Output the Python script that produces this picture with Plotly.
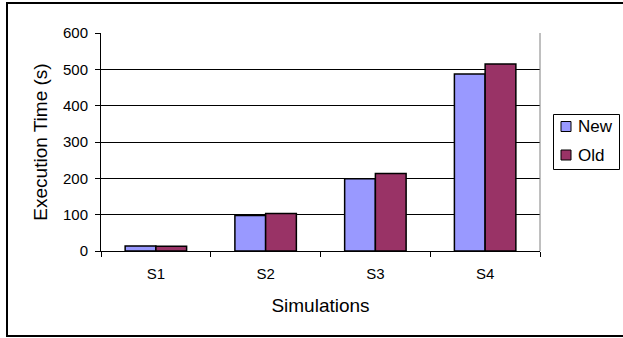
import plotly.graph_objects as go

# Execution time per simulation, old vs new implementation
simulations = ["S1", "S2", "S3", "S4"]
new_times = [14, 98, 199, 487]
old_times = [13, 103, 213, 515]
y_ticks = [0, 100, 200, 300, 400, 500, 600]
series_names = ["New", "Old"]
series_colors = ["#9999FF", "#993366"]

FONT = "Liberation Sans, Arial, sans-serif"

fig = go.Figure()
for name, color, vals in zip(series_names, series_colors, [new_times, old_times]):
    fig.add_trace(go.Bar(name=name, x=simulations, y=vals, showlegend=False,
                         marker=dict(color=color, line=dict(color="black", width=1.5))))

W, H = 623, 338
L, R, T, B = 101, 83, 33, 87
pw, ph = W - L - R, H - T - B


def px_x(v):
    return (v - L) / pw


def px_y(v):
    return (H - B - v) / ph


shapes = [
    # right edge of plot area
    dict(type="line", xref="paper", yref="paper", x0=1, x1=1, y0=0, y1=1,
         line=dict(color="#808080", width=1)),
    # chart frame
    dict(type="rect", xref="paper", yref="paper",
         x0=px_x(7), x1=px_x(627), y0=px_y(336), y1=px_y(3),
         line=dict(color="black", width=2), layer="below"),
    # legend box
    dict(type="rect", xref="paper", yref="paper",
         x0=px_x(553.5), x1=px_x(619.5), y0=px_y(169.5), y1=px_y(114.5),
         line=dict(color="black", width=1), fillcolor="white"),
]
annotations = []
for i, (name, color) in enumerate(zip(series_names, series_colors)):
    cy = 126.5 + i * 28.5
    shapes.append(dict(type="rect", xref="paper", yref="paper",
                       x0=px_x(561), x1=px_x(571), y0=px_y(cy + 5), y1=px_y(cy - 5),
                       line=dict(color="black", width=1), fillcolor=color))
    annotations.append(dict(xref="paper", yref="paper", x=px_x(576), y=px_y(cy),
                            xanchor="left", yanchor="middle", showarrow=False,
                            text=name, font=dict(size=17)))

fig.update_layout(
    width=W, height=H,
    margin=dict(l=L, r=R, t=T, b=B, pad=0, autoexpand=False),
    paper_bgcolor="white", plot_bgcolor="white",
    font=dict(family=FONT, size=15, color="black"),
    barmode="group", bargap=0.44, bargroupgap=0,
    showlegend=False,
    xaxis=dict(
        showline=True, linecolor="black", linewidth=1,
        ticks="outside", tickson="boundaries", ticklen=5, tickcolor="black",
        tickfont=dict(size=15), ticklabelstandoff=9,
        title=dict(text="Simulations", font=dict(size=19), standoff=17),
        showgrid=False,
    ),
    yaxis=dict(
        range=[0, 600], tickvals=y_ticks,
        showline=True, linecolor="black", linewidth=1,
        ticks="outside", ticklen=5, tickcolor="black",
        tickfont=dict(size=15), ticklabelstandoff=4,
        showgrid=True, gridcolor="black", gridwidth=1,
        zeroline=False,
        title=dict(text="Execution Time (s)", font=dict(size=19), standoff=10),
    ),
    shapes=shapes,
    annotations=annotations,
)

fig.write_html("out.html")
